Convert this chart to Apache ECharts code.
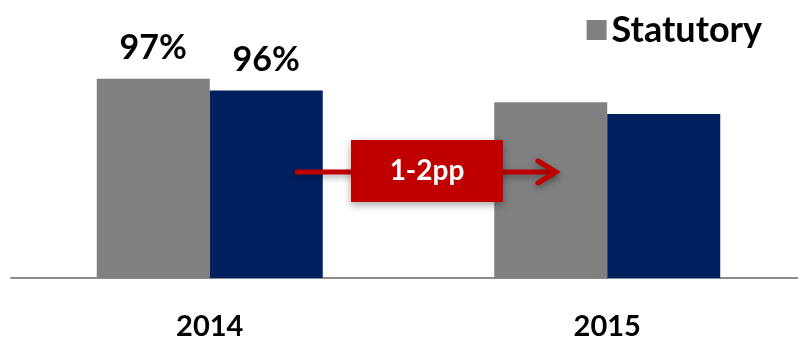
<!DOCTYPE html>
<html>
<head>
<meta charset="utf-8">
<script src="https://cdn.jsdelivr.net/npm/echarts@6/dist/echarts.min.js"></script>
<style>html,body{margin:0;padding:0;background:#fff;overflow:hidden;width:798px;height:341px}#c{width:806px;height:341px}</style>
</head>
<body>
<div id="c"></div>
<script>
const categories = ['2014', '2015'];
const statutory = [97, 95];
const underlying = [96, 94];
const labelShown = [true, false];
const annotationText = '1-2pp';

const FONT = 'Lato';
const chart = echarts.init(document.getElementById('c'));

function withLabels(values) {
  return values.map((v, i) => ({ value: v, label: { show: labelShown[i] } }));
}

const labelStyle = {
  position: 'top',
  distance: 14,
  formatter: p => p.value + '%',
  fontFamily: FONT,
  fontWeight: 'bold',
  fontSize: 34,
  color: '#000'
};

chart.setOption({
  animation: false,
  backgroundColor: '#fff',
  grid: { left: 11, right: 0, top: 43.7, bottom: 60, containLabel: false },
  legend: {
    data: ['Statutory'],
    right: 39, top: 7,
    icon: 'rect', itemWidth: 20, itemHeight: 20,
    textStyle: { fontFamily: FONT, fontWeight: 'bold', fontSize: 36, color: '#000' }
  },
  xAxis: {
    type: 'category',
    data: categories,
    axisLine: { lineStyle: { color: '#8c8c8c', width: 2 } },
    axisTick: { show: false },
    axisLabel: { fontFamily: FONT, fontWeight: 'bold', fontSize: 29, color: '#000', margin: 34 }
  },
  yAxis: { type: 'value', min: 80, max: 100, show: false, splitLine: { show: false } },
  series: [
    {
      name: 'Statutory', type: 'bar', data: withLabels(statutory),
      barWidth: 113, barGap: '0%',
      itemStyle: { color: '#808080' },
      label: labelStyle
    },
    {
      name: 'Underlying', type: 'bar', data: withLabels(underlying),
      barWidth: 113, barGap: '0%',
      itemStyle: { color: '#002060' },
      label: labelStyle
    }
  ],
  graphic: [
    {
      type: 'line', z: 10,
      shape: { x1: 295, y1: 172, x2: 556, y2: 172 },
      style: { stroke: '#c00000', lineWidth: 5, shadowBlur: 6, shadowColor: 'rgba(0,0,0,0.35)', shadowOffsetY: 3 }
    },
    {
      type: 'polyline', z: 10,
      shape: { points: [[538, 161], [556, 172], [538, 183]] },
      style: { stroke: '#c00000', lineWidth: 5, fill: null, lineCap: 'round', lineJoin: 'miter', shadowBlur: 6, shadowColor: 'rgba(0,0,0,0.35)', shadowOffsetY: 3 }
    },
    {
      type: 'rect', z: 11,
      shape: { x: 351, y: 140, width: 152, height: 62 },
      style: { fill: '#c00000', shadowBlur: 8, shadowColor: 'rgba(0,0,0,0.35)', shadowOffsetY: 3 }
    },
    {
      type: 'text', z: 12,
      x: 427, y: 171,
      style: { text: annotationText, fontFamily: FONT, fontWeight: 'bold', fontSize: 28, fill: '#fff', align: 'center', verticalAlign: 'middle' }
    }
  ]
});
</script>
</body>
</html>
